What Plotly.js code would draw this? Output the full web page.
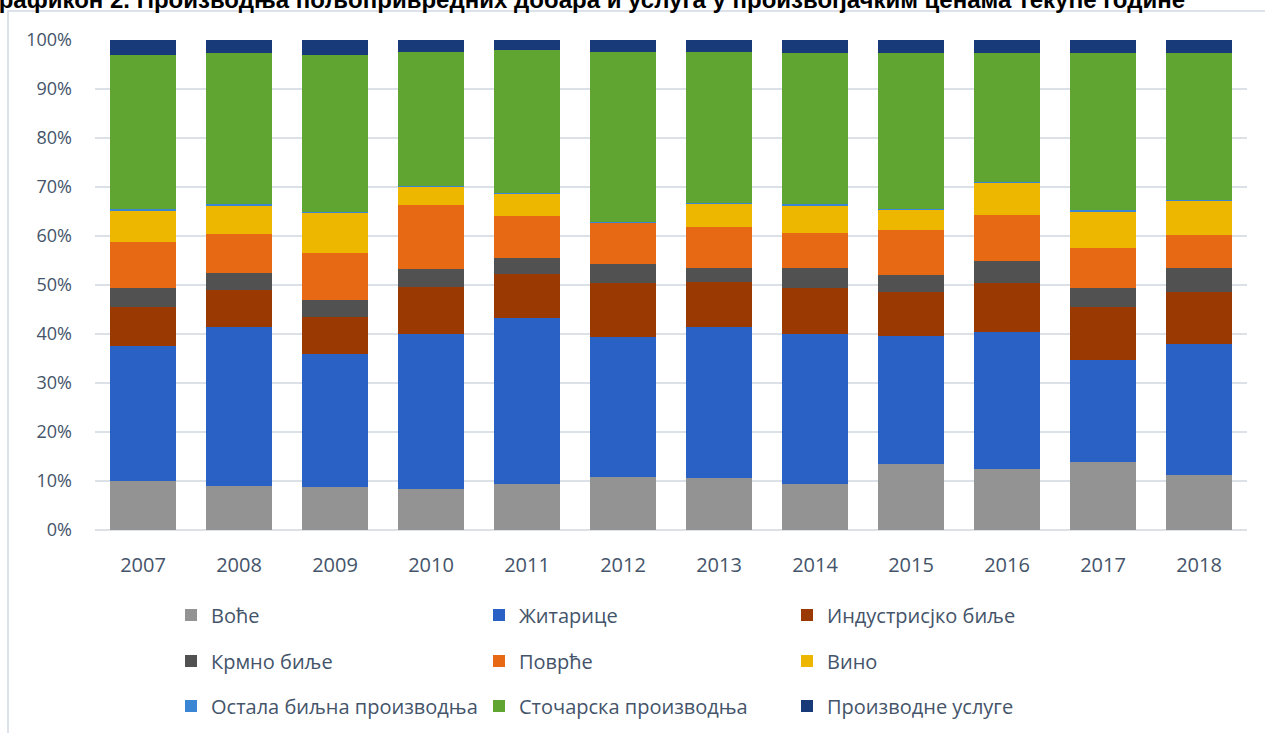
<!DOCTYPE html>
<html>
<head>
<meta charset="utf-8">
<script src="https://cdn.plot.ly/plotly-3.0.1.min.js"></script>
<style>html,body{margin:0;padding:0;background:#fff;}#chart{width:1265px;height:733px;}</style>
</head>
<body>
<div id="chart"></div>
<script>
const years = ['2007','2008','2009','2010','2011','2012','2013','2014','2015','2016','2017','2018'];
const seriesNames = ['Воће','Житарице','Индустрисјко биље','Крмно биље','Поврће','Вино','Остала биљна производња','Сточарска производња','Производне услуге'];
const voce         = [10.0, 9.0, 8.8, 8.4, 9.4, 10.8, 10.6, 9.4, 13.5, 12.4, 13.9, 11.2];
const zitarice     = [27.6, 32.4, 27.1, 31.6, 33.9, 28.6, 30.8, 30.6, 26.1, 28.0, 20.8, 26.8];
const industrijsko = [7.9, 7.6, 7.5, 9.6, 8.9, 11.0, 9.2, 9.4, 9.0, 10.0, 10.8, 10.6];
const krmno        = [3.9, 3.4, 3.5, 3.7, 3.3, 3.9, 2.9, 4.1, 3.4, 4.5, 3.9, 4.9];
const povrce       = [9.4, 8.0, 9.6, 13.0, 8.7, 8.6, 8.3, 7.1, 9.2, 9.4, 8.2, 6.7];
const vino         = [6.5, 5.9, 8.2, 3.8, 4.6, 0.0, 4.9, 5.7, 4.2, 6.6, 7.5, 7.0];
const ostala       = [0.2, 0.3, 0.1, 0.1, 0.1, 0.1, 0.1, 0.3, 0.1, 0.1, 0.3, 0.1];
const stocarska    = [31.4, 30.7, 32.1, 27.3, 29.1, 34.6, 30.8, 30.7, 31.8, 26.3, 31.9, 30.0];
const usluge       = [3.1, 2.7, 3.1, 2.5, 2.1, 2.5, 2.4, 2.7, 2.7, 2.7, 2.7, 2.7];
const yTicks = [0,10,20,30,40,50,60,70,80,90,100];
const yTickLabels = ['0%','10%','20%','30%','40%','50%','60%','70%','80%','90%','100%'];

const values = [voce, zitarice, industrijsko, krmno, povrce, vino, ostala, stocarska, usluge];
const colors = ['#939393','#2962C4','#9A3A02','#515151','#E86914','#EDB700','#3A86D4','#60A531','#183A78'];
const legendIds = ['legend','legend','legend','legend2','legend2','legend2','legend3','legend3','legend3'];

const traces = values.map((v, i) => ({
  type: 'bar',
  name: seriesNames[i],
  x: years,
  y: v,
  marker: {color: colors[i], line: {width: 0}},
  legend: legendIds[i],
  hovertemplate: '%{x}: %{y:.1f}%<extra>' + seriesNames[i] + '</extra>'
}));

const textColor = '#44546A';
const legendBase = {
  orientation: 'h',
  entrywidth: 263,
  entrywidthmode: 'pixels',
  xref: 'container',
  yref: 'container',
  x: 171 / 1265,
  xanchor: 'left',
  yanchor: 'middle',
  traceorder: 'normal',
  font: {family: 'Open Sans, sans-serif', size: 20, color: textColor},
  bgcolor: 'rgba(0,0,0,0)',
  itemclick: false,
  itemdoubleclick: false
};

const layout = {
  width: 1265,
  height: 733,
  margin: {l: 95, r: 18, t: 40, b: 203},
  paper_bgcolor: '#ffffff',
  plot_bgcolor: '#ffffff',
  barmode: 'stack',
  barnorm: 'percent',
  bargap: 0.3125,
  title: {
    text: 'Графикон 2. Производња пољопривредних добара и услуга у произвођачким ценама текуће године',
    font: {family: 'Liberation Sans, Arial, sans-serif', size: 24, color: '#000000', weight: 'bold'},
    xref: 'container', yref: 'container',
    x: 1185 / 1265, xanchor: 'right',
    y: 1.0, yanchor: 'middle'
  },
  xaxis: {
    type: 'category',
    tickfont: {family: 'Open Sans, sans-serif', size: 20, color: textColor},
    showgrid: false,
    showline: false,
    ticks: '',
    ticklabelstandoff: 21,
    fixedrange: true
  },
  yaxis: {
    range: [0, 100],
    tickvals: yTicks,
    ticktext: yTickLabels,
    tickfont: {family: 'Open Sans, sans-serif', size: 18, color: textColor},
    showgrid: true,
    gridcolor: '#DCE0E7',
    gridwidth: 1.5,
    zeroline: true,
    zerolinecolor: '#DCE0E7',
    zerolinewidth: 1.5,
    showline: false,
    ticks: '',
    ticklabelstandoff: 22,
    fixedrange: true
  },
  legend: Object.assign({}, legendBase, {y: 1 - 615 / 733}),
  legend2: Object.assign({}, legendBase, {y: 1 - 661 / 733}),
  legend3: Object.assign({}, legendBase, {y: 1 - 706 / 733}),
  shapes: [{
    type: 'rect', xref: 'paper', yref: 'paper',
    x0: (8 - 95) / 1152, x1: (1275 - 95) / 1152,
    y0: (530 - 745) / 490, y1: (530 - 11) / 490,
    line: {color: '#DDE2EA', width: 2},
    fillcolor: 'rgba(0,0,0,0)',
    layer: 'below'
  }],
  showlegend: true
};

Plotly.newPlot('chart', traces, layout, {displayModeBar: false, staticPlot: false});
</script>
</body>
</html>
